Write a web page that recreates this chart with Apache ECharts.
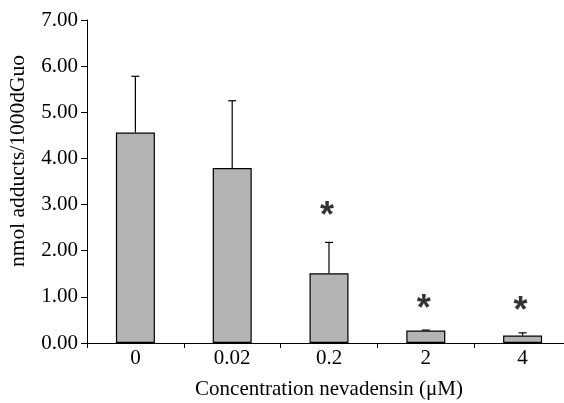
<!DOCTYPE html>
<html>
<head>
<meta charset="utf-8">
<script src="https://cdn.jsdelivr.net/npm/echarts@6/dist/echarts.min.js"></script>
<style>html,body{margin:0;padding:0;background:#fff}#c{width:564px;height:403px}</style>
</head>
<body>
<div id="c"></div>
<script>
var categories = ['0', '0.02', '0.2', '2', '4'];
var means = [4.56, 3.79, 1.51, 0.27, 0.16];
var sdUpper = [5.78, 5.25, 2.18, 0.28, 0.22];
var starY = [null, null, 2.90, 0.89, 0.85];
var yTicks = [0, 1, 2, 3, 4, 5, 6, 7];
var yTitle = 'nmol adducts/1000dGuo';
var xTitle = 'Concentration nevadensin (\u03bcM)';

var chart = echarts.init(document.getElementById('c'));
var font = 'Liberation Serif';
chart.setOption({
  animation: false,
  grid: { left: 87, top: 20, bottom: 60, width: 484, outerBoundsMode: 'none', containLabel: false },
  graphic: [{
    type: 'text', x: 18, y: 161, rotation: Math.PI / 2,
    style: { text: yTitle, fill: '#000', font: '21.5px "Liberation Serif"', align: 'center', verticalAlign: 'middle' }
  }],
  xAxis: {
    type: 'category',
    data: categories,
    boundaryGap: true,
    axisLine: { lineStyle: { color: '#000', width: 1 } },
    axisTick: { show: true, length: 5, lineStyle: { color: '#000' } },
    axisLabel: { color: '#000', fontFamily: font, fontSize: 21, margin: 5 },
    name: xTitle,
    nameLocation: 'middle',
    nameGap: 36,
    nameTextStyle: { color: '#000', fontFamily: font, fontSize: 21 }
  },
  yAxis: {
    type: 'value',
    min: yTicks[0],
    max: yTicks[yTicks.length - 1],
    interval: 1,
    axisLine: { show: true, lineStyle: { color: '#000', width: 1 } },
    axisTick: { show: true, length: 6, lineStyle: { color: '#000' } },
    splitLine: { show: false },
    axisLabel: { color: '#000', fontFamily: font, fontSize: 21, margin: 9,
      formatter: function (v) { return v.toFixed(2); } }
  },
  series: [
    {
      type: 'bar',
      data: means,
      barWidth: 39,
      itemStyle: { color: '#b4b4b4', borderColor: '#000', borderWidth: 1.2 }
    },
    {
      type: 'custom',
      data: categories.map(function (c, i) { return [i, means[i], sdUpper[i]]; }),
      renderItem: function (params, api) {
        var x = api.coord([api.value(0), 0])[0];
        var y0 = api.coord([api.value(0), api.value(1)])[1];
        var y1 = api.coord([api.value(0), api.value(2)])[1];
        var hw = 4;
        return {
          type: 'group',
          children: [
            { type: 'line', shape: { x1: x, y1: y0, x2: x, y2: y1 }, style: { stroke: '#000', lineWidth: 1.2 } },
            { type: 'line', shape: { x1: x - hw, y1: y1, x2: x + hw, y2: y1 }, style: { stroke: '#000', lineWidth: 1.2 } }
          ]
        };
      },
      z: 3
    },
    {
      type: 'scatter',
      symbolSize: 0,
      data: starY.map(function (v, i) { return v == null ? null : [i, v]; }).filter(function (d) { return d; }),
      label: { show: true, formatter: '*', position: 'inside', color: '#000',
        fontFamily: 'Liberation Sans', fontWeight: 'bold', fontSize: 36, offset: [-2, 8] }
    }
  ]
});
</script>
</body>
</html>
